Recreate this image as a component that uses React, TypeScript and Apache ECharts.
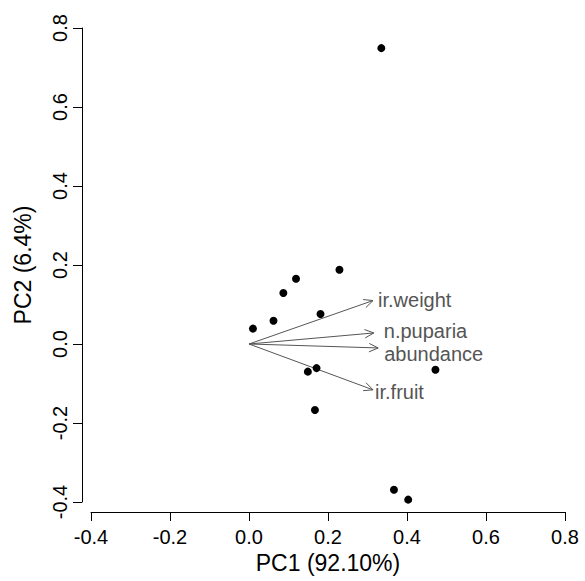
import React, { useEffect, useRef } from "react";
import * as echarts from "echarts";

// Sample scores (PC1, PC2)
const pc1Scores = [0.229, 0.119, 0.087, 0.181, 0.062, 0.010, 0.171, 0.149, 0.167, 0.335, 0.367, 0.403, 0.472];
const pc2Scores = [0.188, 0.165, 0.129, 0.076, 0.059, 0.039, -0.061, -0.070, -0.167, 0.749, -0.369, -0.394, -0.065];

// Variable loadings (arrows)
const varNames = ["ir.weight", "n.puparia", "abundance", "ir.fruit"];
const loadPC1 = [0.314, 0.316, 0.327, 0.314];
const loadPC2 = [0.110, 0.028, -0.010, -0.116];

// Axis settings
const axisMin = -0.4;
const axisMax = 0.8;
const axisStep = 0.2;
const xTitle = "PC1 (92.10%)";
const yTitle = "PC2 (6.4%)";

// label pixel offsets from arrow tips (styling)
const labelOffsets: [number, number][] = [
  [5, -1],
  [10, -2],
  [6, 6],
  [2, 2],
];

const FONT = '"Liberation Sans", Arial, Helvetica, sans-serif';
const GREY = "#555555";

export default function App() {
  const ref = useRef<HTMLDivElement>(null);
  useEffect(() => {
    if (!ref.current) return;
    const chart = echarts.init(ref.current, null, { renderer: "svg" });
    const points = pc1Scores.map((x, i) => [x, pc2Scores[i]]);
    const arrows = loadPC1.map((x, i) => [x, loadPC2[i]]);
    const axisCommon = {
      type: "value" as const,
      min: axisMin,
      max: axisMax,
      interval: axisStep,
      splitLine: { show: false },
      axisLine: { show: true, onZero: false, lineStyle: { color: "#000", width: 1 } },
      axisTick: { show: true, length: 9, lineStyle: { color: "#000", width: 1 } },
      nameLocation: "middle" as const,
      nameTextStyle: { color: "#000", fontSize: 23, fontFamily: FONT },
    };
    chart.setOption({
      animation: false,
      backgroundColor: "#ffffff",
      grid: { left: 91, right: 20, top: 28, bottom: 79, containLabel: false },
      xAxis: {
        ...axisCommon,
        offset: 10,
        name: xTitle,
        nameGap: 36,
        axisLabel: {
          color: "#000",
          fontSize: 20,
          fontFamily: FONT,
          margin: 15,
          formatter: (v: number) => v.toFixed(1),
        },
      },
      yAxis: {
        ...axisCommon,
        offset: 9,
        name: yTitle,
        nameGap: 48,
        nameRotate: 90,
        axisLabel: {
          color: "#000",
          fontSize: 20,
          fontFamily: FONT,
          margin: 12,
          rotate: 90,
          formatter: (v: number) => v.toFixed(1),
        },
      },
      series: [
        {
          type: "custom",
          data: arrows,
          z: 3,
          renderItem: (params: any, api: any) => {
            const idx = params.dataIndex;
            const o = api.coord([0, 0]);
            const t = api.coord([api.value(0), api.value(1)]);
            const ang = Math.atan2(t[1] - o[1], t[0] - o[0]);
            const L = 10;
            const a = (25 * Math.PI) / 180;
            const p1 = [t[0] - L * Math.cos(ang - a), t[1] - L * Math.sin(ang - a)];
            const p2 = [t[0] - L * Math.cos(ang + a), t[1] - L * Math.sin(ang + a)];
            const off = labelOffsets[idx];
            return {
              type: "group",
              children: [
                {
                  type: "line",
                  shape: { x1: o[0], y1: o[1], x2: t[0], y2: t[1] },
                  style: { stroke: GREY, lineWidth: 1 },
                },
                {
                  type: "polyline",
                  shape: { points: [p1, t, p2] },
                  style: { stroke: GREY, fill: null, lineWidth: 1 },
                },
                {
                  type: "text",
                  x: t[0] + off[0],
                  y: t[1] + off[1],
                  style: {
                    text: varNames[idx],
                    fill: GREY,
                    fontSize: 20,
                    fontFamily: FONT,
                    align: "left",
                    verticalAlign: "middle",
                  },
                },
              ],
            };
          },
        },
        {
          type: "scatter",
          data: points,
          symbol: "circle",
          symbolSize: 8,
          z: 4,
          itemStyle: { color: "#000", opacity: 1 },
        },
      ],
    });
    return () => chart.dispose();
  }, []);
  return (
    <div
      ref={ref}
      style={{ position: "absolute", left: 0, top: 0, width: 585, height: 581 }}
    />
  );
}
